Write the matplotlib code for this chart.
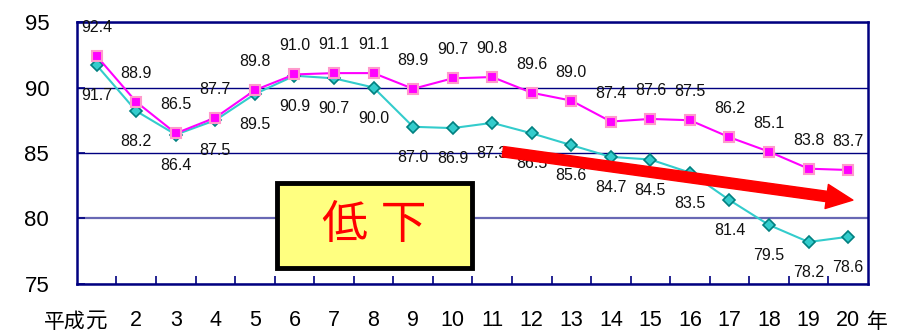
import matplotlib.pyplot as plt
from matplotlib.patches import Rectangle

plt.rcParams['font.family'] = ['Liberation Sans', 'Noto Sans CJK JP', 'DejaVu Sans']

era = "平成"
years = ["元", "2", "3", "4", "5", "6", "7", "8", "9", "10",
         "11", "12", "13", "14", "15", "16", "17", "18", "19", "20"]
upper = [92.4, 88.9, 86.5, 87.7, 89.8, 91.0, 91.1, 91.1, 89.9, 90.7,
         90.8, 89.6, 89.0, 87.4, 87.6, 87.5, 86.2, 85.1, 83.8, 83.7]
lower = [91.7, 88.2, 86.4, 87.5, 89.5, 90.9, 90.7, 90.0, 87.0, 86.9,
         87.3, 86.5, 85.6, 84.7, 84.5, 83.5, 81.4, 79.5, 78.2, 78.6]

navy = '#000080'
x = list(range(len(years)))

fig = plt.figure(figsize=(9.05, 3.34), dpi=100)
ax = fig.add_axes([0.085, 0.15, 0.874, 0.784])

ax.plot(x, lower, color='#33CCCC', lw=1.5, marker='D', ms=6.2,
        mfc='#33CCCC', mec='#008080', mew=1.2, zorder=3)
ax.plot(x, upper, color='#FF00FF', lw=1.5, marker='s', ms=7.5,
        mfc='#FF00FF', mec='#FF99CC', mew=1.5, zorder=4)

for i, v in enumerate(upper):
    ax.annotate(f"{v:.1f}", (i, v), xytext=(0, 20.5), textcoords='offset points',
                ha='center', va='center', fontsize=11.5, color='#111111', zorder=5)
for i, v in enumerate(lower):
    ax.annotate(f"{v:.1f}", (i, v), xytext=(0, -22), textcoords='offset points',
                ha='center', va='center', fontsize=11.5, color='#111111', zorder=5)

ax.set_xlim(-0.5, len(years) - 0.5)
ax.set_ylim(75, 95)
ax.set_yticks([75, 80, 85, 90, 95])
ax.set_xticks(x)
ax.set_xticklabels(years)
ax.set_xticks([i + 0.5 for i in x[:-1]], minor=True)
ax.tick_params(axis='x', which='major', length=0, pad=19, labelsize=15.5)
ax.tick_params(axis='x', which='minor', direction='in', length=6, width=1.2, color=navy)
ax.tick_params(axis='y', direction='in', length=6, width=1.2, color=navy,
               pad=20, labelsize=16)

ax.yaxis.grid(True, color=navy, lw=1)
for line, tick in zip(ax.get_ygridlines(), ax.get_yticks()):
    if tick == 80:
        line.set_color('#6868B4')
        line.set_linewidth(1.6)

for s in ax.spines.values():
    s.set_color(navy)
    s.set_linewidth(1.8)

# era prefix before the first year and unit after the last
ax.text(-0.0155, -0.145, era, transform=ax.transAxes, ha='center', va='center', fontsize=15)
ax.text(1.012, -0.145, "年", transform=ax.transAxes, ha='center', va='center', fontsize=15)

# yellow "低 下" panel
ax.add_patch(Rectangle((0.253, 0.061), 0.246, 0.324, transform=ax.transAxes,
                       facecolor='#FFFF80', edgecolor='black', lw=3.5, zorder=6))
ax.text(0.376, 0.223, "低 下", transform=ax.transAxes, ha='center', va='center',
        fontsize=33, color='red', zorder=7)

# downward trend arrow
ax.annotate('', xy=(19.12, 81.4), xytext=(10.27, 85.1),
            arrowprops=dict(arrowstyle='simple,head_length=1.9,head_width=1.75,tail_width=0.75',
                            mutation_scale=10, color='red', shrinkA=0, shrinkB=0),
            zorder=6)

fig.savefig('out.png', dpi=100)
